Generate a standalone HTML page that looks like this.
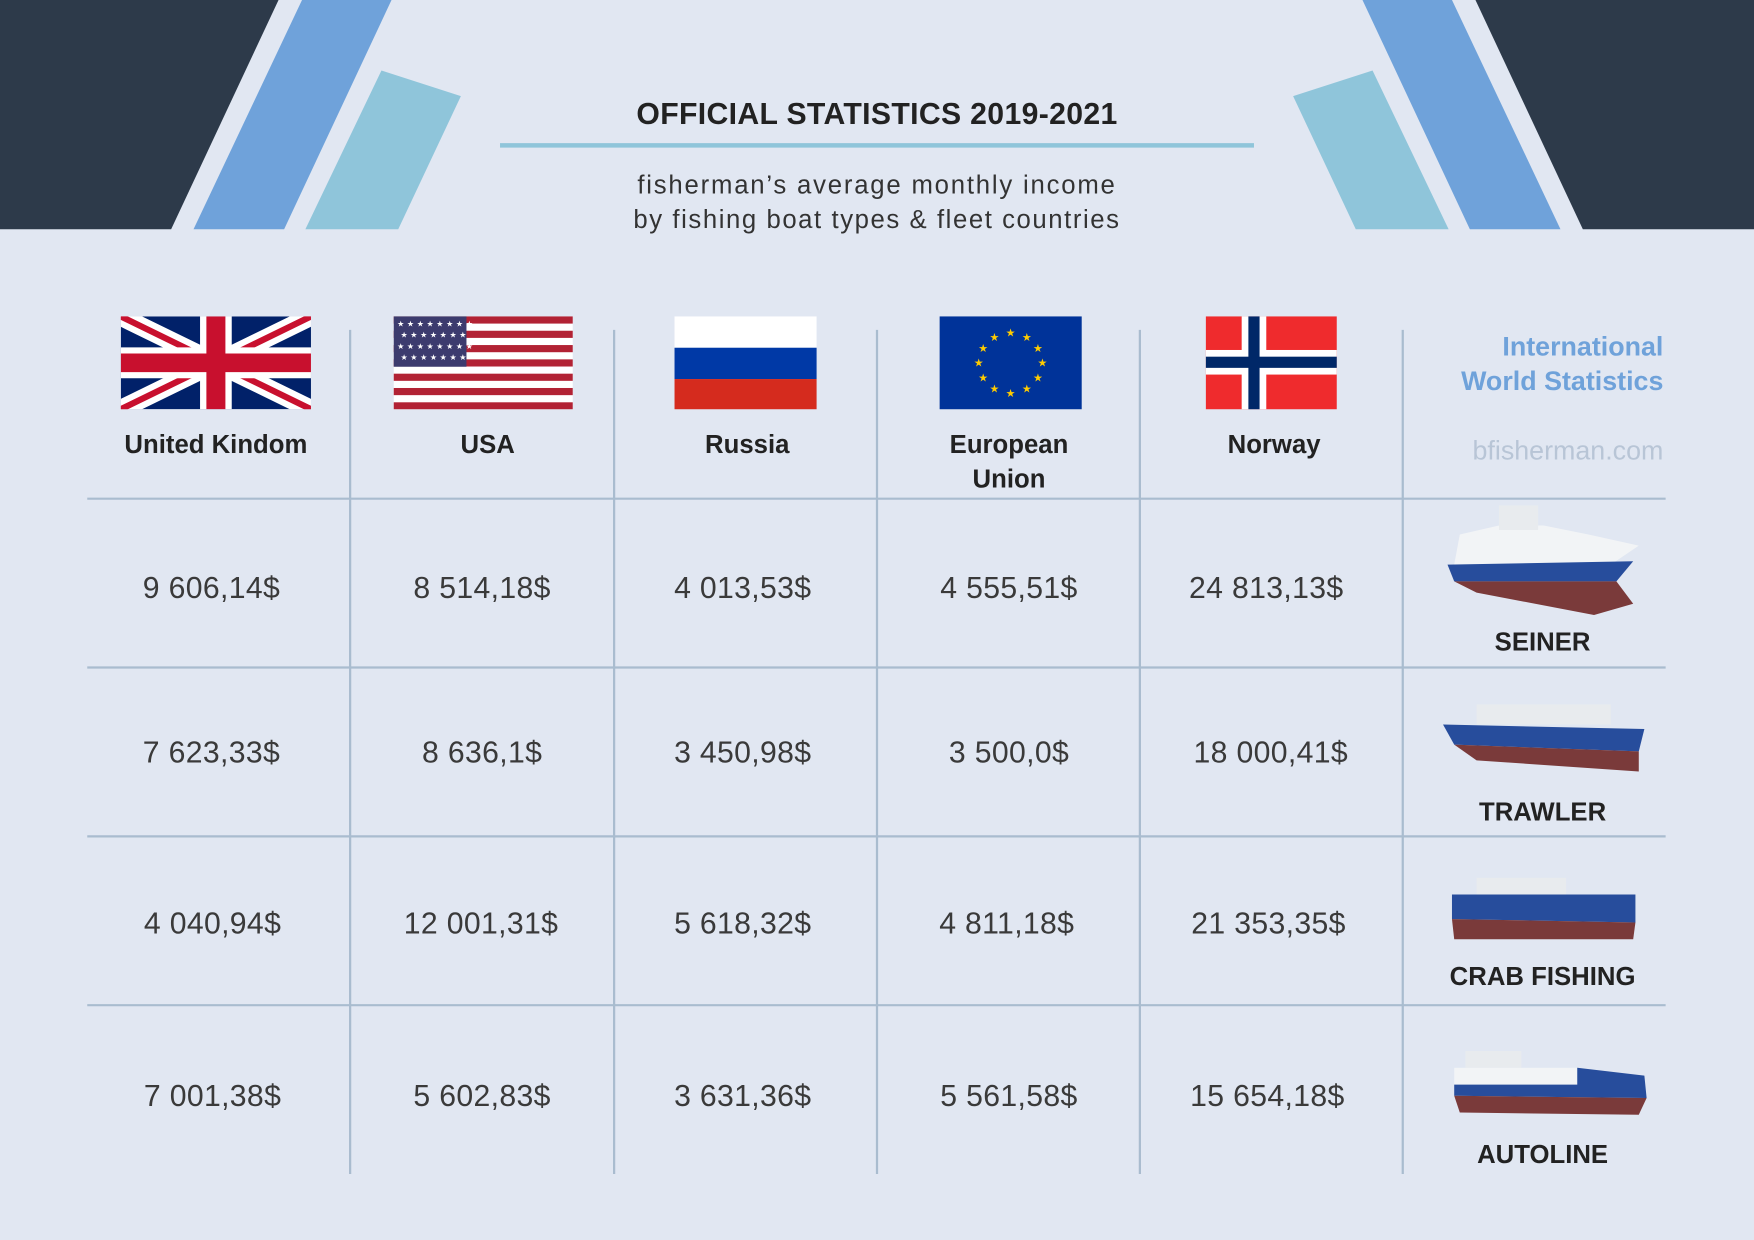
<!DOCTYPE html>
<html><head><meta charset="utf-8"><style>
html,body{margin:0;padding:0;background:#e1e7f2;}
svg{display:block;}
text{font-family:"Liberation Sans",sans-serif;}
</style></head><body>
<svg width="1754" height="1240" viewBox="0 0 1568 1109" preserveAspectRatio="none" xmlns="http://www.w3.org/2000/svg">
<rect width="1568" height="1109" fill="#e1e7f2"/>
<polygon points="0,0 249,0 153,205 0,205" fill="#2d3a4a"/>
<polygon points="270,0 350,0 254,205 173,205" fill="#6fa2da"/>
<polygon points="341,63 412,86 356,205 273,205" fill="#8fc5da"/>
<polygon points="1568,0 1319,0 1415,205 1568,205" fill="#2d3a4a"/>
<polygon points="1298,0 1218,0 1314,205 1395,205" fill="#6fa2da"/>
<polygon points="1227,63 1156,86 1212,205 1295,205" fill="#8fc5da"/>
<text x="784" y="111" text-anchor="middle" font-size="27" font-weight="bold" fill="#222" letter-spacing="0.3">OFFICIAL STATISTICS 2019-2021</text>
<line x1="447" y1="130" x2="1121" y2="130" stroke="#8fc5da" stroke-width="4"/>
<text x="784" y="173" text-anchor="middle" font-size="23" fill="#333" letter-spacing="1.6">fisherman’s average monthly income</text>
<text x="784" y="204" text-anchor="middle" font-size="23" fill="#333" letter-spacing="1.4">by fishing boat types &amp; fleet countries</text>
<g stroke="#a9bccf" stroke-width="2">
<line x1="313" y1="295" x2="313" y2="1050"/><line x1="549" y1="295" x2="549" y2="1050"/>
<line x1="784" y1="295" x2="784" y2="1050"/><line x1="1019" y1="295" x2="1019" y2="1050"/>
<line x1="1254" y1="295" x2="1254" y2="1050"/>
<line x1="78" y1="446" x2="1489" y2="446"/><line x1="78" y1="597" x2="1489" y2="597"/>
<line x1="78" y1="748" x2="1489" y2="748"/><line x1="78" y1="899" x2="1489" y2="899"/>
</g>
<svg x="108" y="283" width="170" height="83" viewBox="0 0 60 30" preserveAspectRatio="none">
<rect width="60" height="30" fill="#012169"/>
<path d="M0,0 L60,30 M60,0 L0,30" stroke="#fff" stroke-width="6"/>
<path d="M0,0 L60,30 M60,0 L0,30" stroke="#C8102E" stroke-width="2"/>
<path d="M30,0 V30 M0,15 H60" stroke="#fff" stroke-width="10"/>
<path d="M30,0 V30 M0,15 H60" stroke="#C8102E" stroke-width="6"/>
</svg>
<g>
<rect x="352" y="283" width="160" height="83" fill="#fff"/>
<g fill="#b22234">
<rect x="352" y="283" width="160" height="6.4"/><rect x="352" y="295.8" width="160" height="6.4"/>
<rect x="352" y="308.6" width="160" height="6.4"/><rect x="352" y="321.4" width="160" height="6.4"/>
<rect x="352" y="334.2" width="160" height="6.4"/><rect x="352" y="347" width="160" height="6.4"/>
<rect x="352" y="359.8" width="160" height="6.2"/>
</g>
<rect x="352" y="283" width="65" height="45" fill="#3c3b6e"/>
<g fill="#fff"><text x="355" y="292" font-size="7" letter-spacing="2.5">★★★★★★★★</text><text x="358" y="302" font-size="7" letter-spacing="2.5">★★★★★★★</text><text x="355" y="312" font-size="7" letter-spacing="2.5">★★★★★★★★</text><text x="358" y="322" font-size="7" letter-spacing="2.5">★★★★★★★</text></g>
</g>
<rect x="603" y="283" width="127" height="28" fill="#fff"/>
<rect x="603" y="311" width="127" height="28" fill="#0039a6"/>
<rect x="603" y="339" width="127" height="27" fill="#d52b1e"/>
<rect x="840" y="283" width="127" height="83" fill="#003399"/>
<g fill="#ffcc00" font-size="10" text-anchor="middle">
<text x="903.5" y="301">★</text><text x="918" y="305">★</text><text x="928" y="315">★</text><text x="932" y="328">★</text><text x="928" y="341">★</text><text x="918" y="351">★</text><text x="903.5" y="355">★</text><text x="889" y="351">★</text><text x="879" y="341">★</text><text x="875" y="328">★</text><text x="879" y="315">★</text><text x="889" y="305">★</text>
</g>
<rect x="1078" y="283" width="117" height="83" fill="#ef2b2d"/>
<rect x="1110" y="283" width="22" height="83" fill="#fff"/>
<rect x="1078" y="313" width="117" height="22" fill="#fff"/>
<rect x="1116" y="283" width="10" height="83" fill="#002868"/>
<rect x="1078" y="319" width="117" height="10" fill="#002868"/>
<g font-size="23" font-weight="bold" fill="#222" text-anchor="middle">
<text x="193" y="405">United Kindom</text><text x="436" y="405">USA</text><text x="668" y="405">Russia</text>
<text x="902" y="405">European</text><text x="902" y="436">Union</text><text x="1139" y="405">Norway</text>
</g>
<g font-size="24" font-weight="bold" fill="#6fa2da" text-anchor="end">
<text x="1487" y="318">International</text><text x="1487" y="349">World Statistics</text>
</g>
<text x="1487" y="411" text-anchor="end" font-size="24" fill="#b8c5d6">bfisherman.com</text>
<g font-size="27" fill="#3a3a3a" text-anchor="middle" letter-spacing="0.3">
<text x="189" y="535">9 606,14$</text><text x="431" y="535">8 514,18$</text><text x="664" y="535">4 013,53$</text><text x="902" y="535">4 555,51$</text><text x="1132" y="535">24 813,13$</text>
<text x="189" y="682">7 623,33$</text><text x="431" y="682">8 636,1$</text><text x="664" y="682">3 450,98$</text><text x="902" y="682">3 500,0$</text><text x="1136" y="682">18 000,41$</text>
<text x="190" y="835">4 040,94$</text><text x="430" y="835">12 001,31$</text><text x="664" y="835">5 618,32$</text><text x="900" y="835">4 811,18$</text><text x="1134" y="835">21 353,35$</text>
<text x="190" y="989">7 001,38$</text><text x="431" y="989">5 602,83$</text><text x="664" y="989">3 631,36$</text><text x="902" y="989">5 561,58$</text><text x="1133" y="989">15 654,18$</text>
</g>
<g>
<polygon points="1305,478 1340,470 1380,470 1420,478 1465,488 1440,505 1300,505" fill="#f2f4f6"/>
<rect x="1340" y="452" width="35" height="22" fill="#e8ebee"/>
<polygon points="1294,505 1460,502 1445,520 1300,520" fill="#274d9c"/>
<polygon points="1300,520 1445,520 1460,540 1425,550 1320,530" fill="#7a3a3a"/>
</g>
<g>
<rect x="1320" y="630" width="120" height="18" fill="#e8ebee"/>
<polygon points="1290,648 1470,652 1465,672 1300,666" fill="#274d9c"/>
<polygon points="1300,666 1465,672 1465,690 1320,680" fill="#7a3a3a"/>
</g>
<g>
<rect x="1320" y="785" width="80" height="15" fill="#e8ebee"/>
<polygon points="1298,800 1462,800 1462,825 1298,822" fill="#274d9c"/>
<polygon points="1298,822 1462,825 1460,840 1300,840" fill="#7a3a3a"/>
</g>
<g>
<rect x="1310" y="940" width="50" height="15" fill="#e8ebee"/>
<rect x="1300" y="955" width="110" height="15" fill="#f2f4f6"/>
<polygon points="1410,955 1470,962 1472,982 1300,980 1300,970 1410,970" fill="#274d9c"/>
<polygon points="1300,980 1472,982 1465,997 1305,995" fill="#7a3a3a"/>
</g>
<g font-size="23" font-weight="bold" fill="#222" text-anchor="middle">
<text x="1379" y="582">SEINER</text><text x="1379" y="734">TRAWLER</text><text x="1379" y="881">CRAB FISHING</text><text x="1379" y="1040">AUTOLINE</text>
</g>
</svg>
</body></html>
